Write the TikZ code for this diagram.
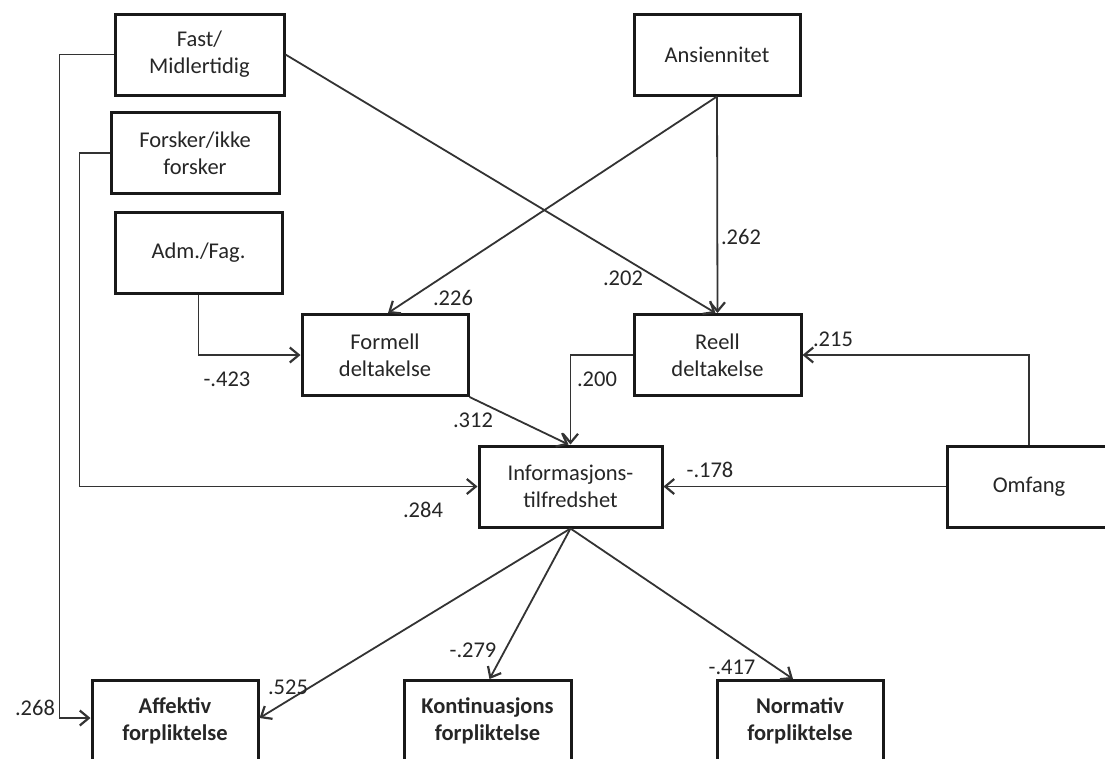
\documentclass[tikz,border=0pt]{standalone}
\usepackage{fontspec}
\setmainfont{Carlito}
\usetikzlibrary{arrows.meta}
\begin{document}
\begin{tikzpicture}[x=1pt,y=-1pt,
  box/.style={draw=black!90, line width=3pt, minimum width=#1, minimum height=81pt,
    inner sep=0pt, align=center, font=\fontsize{22.5}{27}\selectfont, text=black!85},
  bbox/.style={box=#1, font=\fontsize{22.5}{27}\selectfont\bfseries},
  conn/.style={draw=black!80, line width=1.8pt},
  arr/.style={conn, -{Straight Barb[length=9pt,width=15pt,line width=2.2pt]}},
  lab/.style={font=\fontsize{22.5}{27}\selectfont, text=black!85, inner sep=0pt}]
\useasboundingbox (0,0) rectangle (1105,758);
\clip (0,0) rectangle (1105,758);
\fill[white] (0,0) rectangle (1105,758);

% boxes
\node[box=169pt] (fast) at (199.5,54.5) {Fast/\\Midlertidig};
\node[box=166pt] (ans)  at (717,54.5) {Ansiennitet};
\node[box=168pt] (fors) at (195,153) {Forsker/ikke\\forsker};
\node[box=167pt] (adm)  at (198.5,252.5) {Adm./Fag.};
\node[box=166pt] (form) at (385,355) {Formell\\deltakelse};
\node[box=167pt] (reell) at (717.5,355) {Reell\\deltakelse};
\node[box=183pt] (info) at (570.5,486.5) {Informasjons-\\tilfredshet};
\node[box=164pt] (omf)  at (1029,486.5) {Omfang};
\node[bbox=166pt] (aff)  at (175,721) {Affektiv\\forpliktelse};
\node[bbox=167pt] (kont) at (487.5,721) {Kontinuasjons\\forpliktelse};
\node[bbox=166pt] (norm) at (800,721) {Normativ\\forpliktelse};

% connectors
\draw[arr] (fast.west) -- ++(-54,0) |- ([yshift=3pt]aff.west);
\draw[arr] (fors.west) -- ++(-30,0) |- (info.west);
\draw[arr] (adm.south) |- (form.west);
\draw[arr] (ans.south) -- ([xshift=3pt]form.north);
\draw[arr] (ans.south) -- (reell.north);
\draw[arr] (fast.east) -- ([xshift=-2pt]reell.north);
\draw[arr] (form.south east) -- ([xshift=-2pt]info.north);
\draw[arr] (reell.west) -| (info.north);
\draw[arr] (omf.north) |- (reell.east);
\draw[arr] (omf.west) -- (info.east);
\draw[arr] (info.south) -- ([yshift=3pt]aff.east);
\draw[arr] (info.south) -- ([xshift=2pt]kont.north);
\draw[arr] (info.south) -- ([xshift=-7pt]norm.north);

% labels
\node[lab] (l226) at (453,298) {.226};
\node[lab] (l202) at (623,278) {.202};
\node[lab] (l262) at (741,237) {.262};
\node[lab] (l215) at (833,339) {.215};
\node[lab] (l200) at (597,379) {.200};
\node[lab] (l423) at (227,379) {-.423};
\node[lab] (l312) at (473,420) {.312};
\node[lab] (l178) at (710,470) {-.178};
\node[lab] (l284) at (423,510) {.284};
\node[lab] (l268) at (35,708) {.268};
\node[lab] (l525) at (288,687) {.525};
\node[lab] (l279) at (473,650) {-.279};
\node[lab] (l417) at (732,667) {-.417};
\end{tikzpicture}
\end{document}
